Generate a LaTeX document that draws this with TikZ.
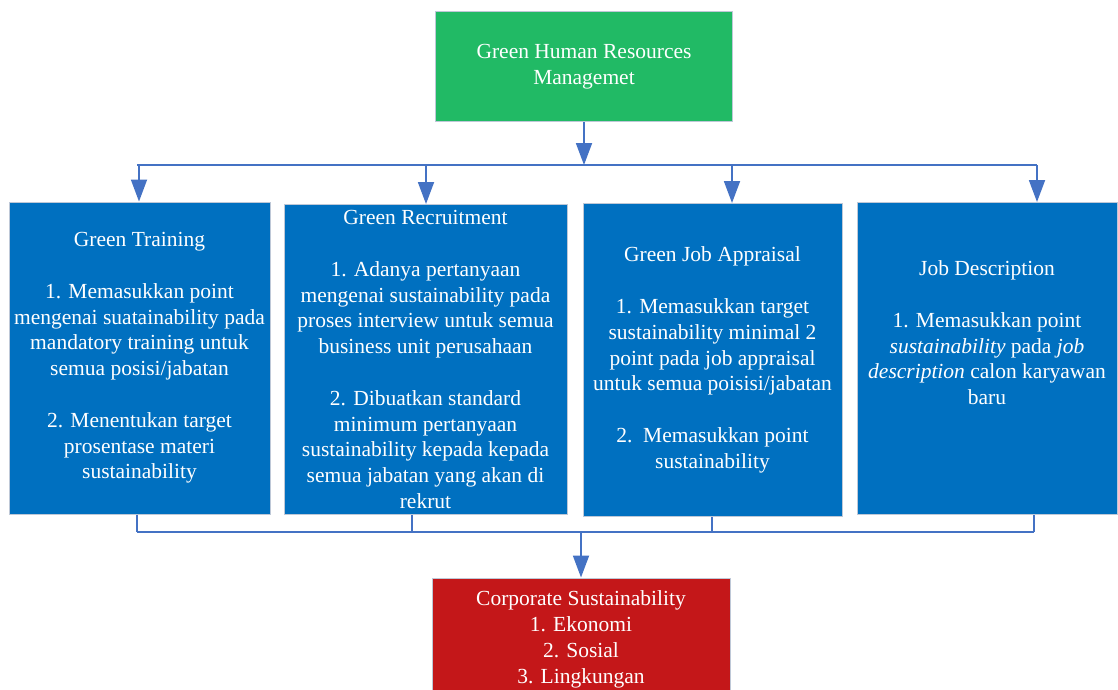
\documentclass[tikz,border=0pt]{standalone}
\usepackage{fontspec}
\setmainfont[Extension=.ttf, UprightFont=*-Regular, ItalicFont=*-Italic, BoldFont=*-Bold]{LiberationSerif}
\usetikzlibrary{arrows.meta}
\definecolor{ghrm}{RGB}{33,186,101}
\definecolor{boxblue}{RGB}{0,112,192}
\definecolor{csred}{RGB}{196,23,25}
\definecolor{arrblue}{RGB}{68,114,196}
\definecolor{edgegray}{RGB}{190,200,215}
\tikzset{
  box/.style={rectangle, draw=edgegray, line width=1pt, inner sep=0pt, align=center,
    text=white, font=\fontsize{21.5}{25.8}\selectfont},
  bluebox/.style={box, fill=boxblue},
  link/.style={draw=arrblue, line width=1.8pt},
  arr/.style={link, -{Triangle[length=22pt,width=16pt]}},
}
\begin{document}
\begin{tikzpicture}[x=1pt,y=-1pt]
\clip (0,0) rectangle (1118,690);
\useasboundingbox (0,0) rectangle (1118,690);
\fill[white] (0,0) rectangle (1118,690);

\node[box, fill=ghrm, minimum width=297pt, minimum height=110pt] (top) at (584,67)
  {Green Human Resources\\Managemet};

\node[bluebox, minimum width=261pt, minimum height=312pt] (b1) at (139.5,358)
  {Green Training\\[25.8pt]
   1. Memasukkan point\\mengenai suatainability pada\\mandatory training untuk\\semua posisi/jabatan\\[25.8pt]
   2. Menentukan target\\prosentase materi\\sustainability};

\node[bluebox, minimum width=283pt, minimum height=310pt] (b2) at (425.5,359.5)
  {Green Recruitment\\[25.8pt]
   1. Adanya pertanyaan\\mengenai sustainability pada\\proses interview untuk semua\\business unit perusahaan\\[25.8pt]
   2. Dibuatkan standard\\minimum pertanyaan\\sustainability kepada kepada\\semua jabatan yang akan di\\rekrut};

\node[bluebox, minimum width=259pt, minimum height=313pt] (b3) at (712.5,360)
  {Green Job Appraisal\\[25.8pt]
   1. Memasukkan target\\sustainability minimal 2\\point pada job appraisal\\untuk semua poisisi/jabatan\\[25.8pt]
   2.\ \ Memasukkan point\\sustainability};

\node[bluebox, minimum width=260pt, minimum height=312pt] (b4) at (987,358.5)
  {Job Description\\[25.8pt]
   1. Memasukkan point\\\textit{sustainability} pada \textit{job}\\\textit{description} calon karyawan\\baru\\[25.8pt]\mbox{}};

\node[box, fill=csred, minimum width=298pt, minimum height=123pt] (cs) at (581,639.5)
  {Corporate Sustainability\\1. Ekonomi\\2. Sosial\\3. Lingkungan};

% top bus
\coordinate (busL) at (137,165);
\coordinate (busR) at (1037,165);
\coordinate (t1) at (139,165);
\coordinate (t2) at (426,165);
\coordinate (t3) at (732,165);
\coordinate (t4) at (1037,165);
\draw[arr] (top.south) -- (top.south |- busL);
\draw[link] (busL) -- (busR);
\draw[arr] (t1) -- (t1 |- b1.north);
\draw[arr] (t2) -- (t2 |- b2.north);
\draw[arr] (t3) -- (t3 |- b3.north);
\draw[arr] (t4) -- (t4 |- b4.north);

% bottom bus
\coordinate (s1) at (137,532);
\coordinate (s2) at (412,532);
\coordinate (s3) at (712,532);
\coordinate (s4) at (1034,532);
\draw[link] (s1 |- b1.south) -- (s1);
\draw[link] (s2 |- b2.south) -- (s2);
\draw[link] (s3 |- b3.south) -- (s3);
\draw[link] (s4 |- b4.south) -- (s4);
\draw[link] (s1) -- (s4);
\draw[arr] (cs.north |- s1) -- (cs.north);
\end{tikzpicture}
\end{document}
